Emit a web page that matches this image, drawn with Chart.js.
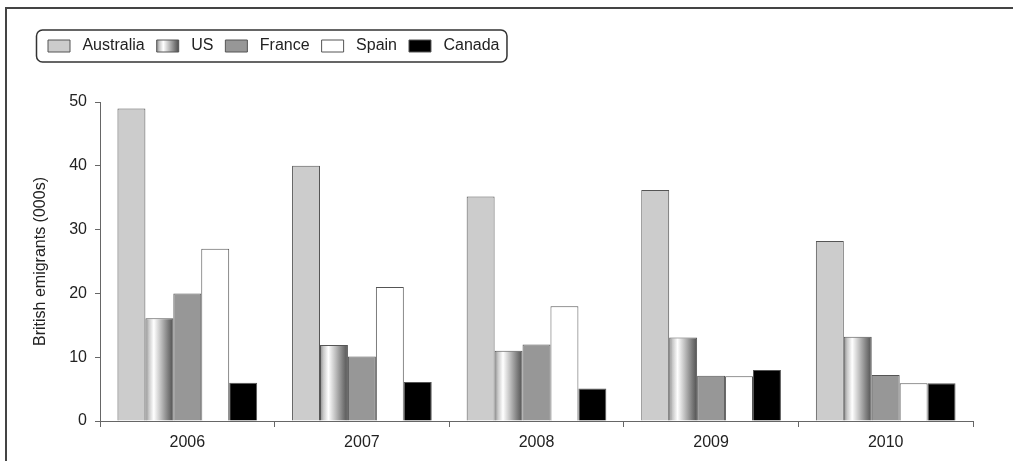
<!DOCTYPE html>
<html>
<head>
<meta charset="utf-8">
<script src="https://cdn.jsdelivr.net/npm/chart.js@4"></script>
<style>
  html, body { margin: 0; padding: 0; background: #fff; }
  #wrap { width: 1013px; height: 461px; }
</style>
</head>
<body>
<div id="wrap"><canvas id="chart" width="1013" height="461"></canvas></div>
<script>
/* ===== DATA ===== */

const years = ["2006", "2007", "2008", "2009", "2010"];
const australia = [49, 40, 35.2, 36.2, 28.2];
const us        = [16.1, 11.9, 11, 13.1, 13.2];
const france    = [20, 10.1, 12, 7.1, 7.2];
const spain     = [27, 21, 18, 7, 5.9];
const canada    = [6, 6.1, 5.1, 8, 5.9];
const yTicks    = [0, 10, 20, 30, 40, 50];

const FONT = "'Liberation Sans', Arial, sans-serif";
const EDGE = "#555";
const TOP = 26;

/* ===== HELPERS ===== */

// metallic cylinder look of the US bars
function cylinder(ctx, left, width) {
  const g = ctx.createLinearGradient(left, 0, left + width, 0);
  g.addColorStop(0, "#8a8a8a");
  g.addColorStop(0.12, "#c8c8c8");
  g.addColorStop(0.3, "#ffffff");
  g.addColorStop(0.55, "#c0c0c0");
  g.addColorStop(0.8, "#808080");
  g.addColorStop(1, "#505050");
  return g;
}

const decor = {
  id: "decor",
  beforeInit(chart) {
    const fit = chart.legend.fit;
    chart.legend.fit = function () {
      fit.call(this);
      this.height = 102 - TOP;
    };
  },
  afterUpdate(chart) {
    const lg = chart.legend;
    if (!lg || !lg.legendHitBoxes || !lg.legendItems) return;
    const hb = lg.legendHitBoxes[1];
    if (hb && lg.legendItems[1]) {
      lg.legendItems[1].fillStyle = cylinder(chart.ctx, hb.left, 22);
    }
  },
  beforeDatasetDraw(chart, args) {
    if (args.index !== 1) return;
    args.meta.data.forEach(el => {
      const { x, width } = el.getProps(["x", "width"], true);
      el.options = Object.assign({}, el.options, {
        backgroundColor: cylinder(chart.ctx, x - width / 2, width)
      });
    });
  },
  afterDraw(chart) {
    const ctx = chart.ctx;
    ctx.save();
    // outer frame (top and left only)
    ctx.strokeStyle = "#444";
    ctx.lineWidth = 2;
    ctx.beginPath();
    ctx.moveTo(1013, 8);
    ctx.lineTo(6, 8);
    ctx.lineTo(6, 461);
    ctx.stroke();
    // rounded box round the legend
    const boxes = chart.legend.legendHitBoxes;
    if (boxes && boxes.length) {
      const first = boxes[0], last = boxes[boxes.length - 1];
      const x0 = first.left - 11.5;
      const x1 = last.left + last.width + 7.5;
      const yc = first.top + first.height / 2;
      ctx.strokeStyle = "#333";
      ctx.lineWidth = 1.5;
      ctx.beginPath();
      ctx.roundRect(x0, yc - 16, x1 - x0, 32, 6);
      ctx.stroke();
    }
    ctx.restore();
  }
};

/* ===== CHART ===== */

function ds(label, data, color) {
  return {
    label: label,
    data: data,
    backgroundColor: color,
    borderColor: EDGE,
    borderWidth: 1,
    categoryPercentage: 0.8,
    barPercentage: 1.0
  };
}

new Chart(document.getElementById("chart"), {
  type: "bar",
  data: {
    labels: years,
    datasets: [
      ds("Australia", australia, "#cccccc"),
      ds("US", us, "#bbbbbb"),
      ds("France", france, "#979797"),
      ds("Spain", spain, "#ffffff"),
      ds("Canada", canada, "#000000")
    ]
  },
  options: {
    responsive: false,
    devicePixelRatio: 1,
    animation: false,
    layout: { padding: { left: 36, right: 40, top: TOP, bottom: 0 } },
    plugins: {
      tooltip: { enabled: false },
      legend: {
        position: "top",
        align: "start",
        labels: {
          boxWidth: 22,
          boxHeight: 12,
          padding: 12,
          color: "#222",
          font: { family: FONT, size: 16 },
          generateLabels(chart) {
            return Chart.defaults.plugins.legend.labels.generateLabels(chart)
              .map(l => Object.assign(l, { text: " " + l.text }));
          }
        }
      }
    },
    scales: {
      x: {
        grid: { display: true, offset: true, drawOnChartArea: false, drawTicks: true, tickLength: 6, color: "#666" },
        border: { display: true, color: "#666", width: 1 },
        ticks: { color: "#222", padding: 6, font: { family: FONT, size: 16 } },
        afterFit(scale) { scale.height = 40; }
      },
      y: {
        min: 0,
        max: 50,
        afterBuildTicks(scale) { scale.ticks = yTicks.map(v => ({ value: v })); },
        grid: { display: true, drawOnChartArea: false, drawTicks: true, tickLength: 5, color: "#666" },
        border: { display: true, color: "#666", width: 1 },
        ticks: { color: "#222", padding: 8, font: { family: FONT, size: 16 } },
        title: {
          display: true,
          text: "British emigrants (000s)",
          color: "#222",
          padding: { top: -5, bottom: 0 },
          font: { family: FONT, size: 16 }
        },
        afterFit(scale) { scale.width = 64; }
      }
    }
  },
  plugins: [decor]
});
</script>
</body>
</html>
